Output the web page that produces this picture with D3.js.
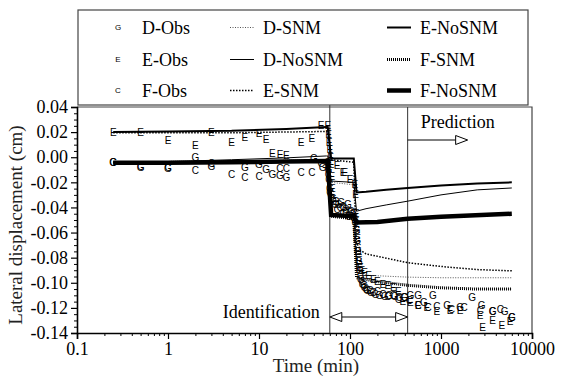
<!DOCTYPE html>
<html>
<head>
<meta charset="utf-8">
<script src="https://cdn.jsdelivr.net/npm/d3@7"></script>
<style>
  body { margin: 0; background: #fff; }
  text.serif { font-family: "Liberation Serif", "Times New Roman", serif; }
  text.mk { font-family: "Liberation Sans", Arial, sans-serif; font-size: 10px; }
</style>
</head>
<body>
<div id="chart"></div>
<script>
// observed data [time (min), displacement (cm)]
let obsD = [[0.25,-0.004],[0.5,-0.008],[1,-0.009],[2,-0.0005],[3,-0.0075],[7,-0.008],[10,-0.0055],[12,-0.010],[14,-0.0135],[17,-0.0145],[20,-0.016],[40,-0.001],[50,-0.008],
  [57,-0.004],[58,-0.010],[59,-0.018],[60,-0.025],[62,-0.030],[65,-0.033],[70,-0.035],[75,-0.038],[80,-0.036],[85,-0.040],[90,-0.042],[95,-0.038],[100,-0.044],[105,-0.046],[110,-0.045],
  [115,-0.050],[118,-0.058],[120,-0.066],[122,-0.075],[125,-0.083],[128,-0.090],[132,-0.097],[138,-0.101],[145,-0.104],[155,-0.106],[170,-0.108],[190,-0.109],[210,-0.110],[240,-0.111],
  [270,-0.110],[310,-0.111],[350,-0.112],[400,-0.112],[460,-0.110],[560,-0.110],[650,-0.116],[815,-0.110],[1170,-0.118],[1620,-0.120],[2200,-0.112],[2800,-0.118],[3700,-0.123],[5000,-0.123],[6000,-0.128]];
let obsE = [[0.25,0.020],[0.5,0.020],[1,0.0135],[2,0.009],[3,0.020],[5,0.012],[7,0.016],[10,0.019],[12,0.014],[14,0.003],[17,0.002],[20,0.0015],[29,0.012],[38,0.015],[48,0.025],[57,0.025],
  [58,0.018],[59,0.012],[60,0.006],[61,0.000],[62,-0.006],[63,-0.015],[64,-0.025],[66,-0.035],[72,-0.0065],[84,-0.012],[88,-0.012],[100,-0.018],[113,-0.022],[115,-0.030],[117,-0.045],
  [119,-0.055],[121,-0.065],[123,-0.075],[126,-0.082],[130,-0.088],[135,-0.090],[145,-0.092],[160,-0.094],[180,-0.097],[200,-0.099],[230,-0.101],[260,-0.102],[300,-0.104],[340,-0.107],
  [380,-0.115],[460,-0.116],[560,-0.118],[700,-0.120],[900,-0.123],[1256,-0.122],[1620,-0.122],[2690,-0.126],[2870,-0.136],[3700,-0.130],[4670,-0.134],[5730,-0.131]];
let obsF = [[0.25,-0.004],[0.5,-0.007],[1,-0.008],[2,-0.0105],[3,-0.005],[5,-0.0135],[7,-0.016],[10,-0.015],[17,-0.009],[20,-0.009],[29,-0.012],[38,-0.012],[48,-0.005],
  [57,-0.006],[58,-0.014],[60,-0.028],[63,-0.034],[68,-0.038],[72,-0.042],[78,-0.040],[84,-0.045],[90,-0.044],[96,-0.047],[102,-0.043],[108,-0.048],[114,-0.052],[118,-0.062],[121,-0.072],
  [124,-0.080],[127,-0.088],[131,-0.094],[136,-0.099],[142,-0.102],[150,-0.105],[165,-0.106],[180,-0.108],[200,-0.107],[230,-0.109],[260,-0.111],[300,-0.110],[340,-0.113],[390,-0.112],
  [450,-0.114],[560,-0.118],[720,-0.120],[900,-0.119],[1300,-0.121],[1800,-0.120],[2700,-0.122],[3700,-0.123],[4500,-0.121],[6000,-0.128]];

// model curves
let dSNM = [[0.25,-0.004],[55,-0.0025],[57,-0.0025],[62,-0.020],[110,-0.022],[118,-0.090],[150,-0.094],[430,-0.0955],[1000,-0.096],[6000,-0.096]];
let dNoSNM = [[0.25,-0.004],[1,-0.0035],[5,-0.002],[20,-0.0005],[55,0.001],[57,0.001],[62,-0.019],[110,-0.020],[118,-0.043],[150,-0.041],[250,-0.038],[430,-0.035],[1000,-0.030],[2500,-0.026],[6000,-0.0245]];
let eSNM = [[0.25,0.0195],[5,0.0195],[55,0.0205],[57,0.0205],[62,-0.002],[110,-0.004],[118,-0.068],[130,-0.074],[150,-0.077],[430,-0.084],[1000,-0.087],[2500,-0.0895],[6000,-0.0905]];
let eNoSNM = [[0.25,0.020],[1,0.0205],[5,0.021],[20,0.0225],[55,0.024],[57,0.024],[62,-0.001],[110,-0.001],[118,-0.028],[150,-0.0275],[250,-0.026],[430,-0.0245],[1000,-0.0225],[2500,-0.021],[6000,-0.020]];
let fSNM = [[0.25,-0.0045],[55,-0.003],[57,-0.003],[62,-0.047],[110,-0.049],[118,-0.096],[200,-0.099],[430,-0.102],[1000,-0.104],[2500,-0.105],[6000,-0.105]];
let fNoSNM = [[0.25,-0.0045],[1,-0.0045],[5,-0.004],[20,-0.0035],[55,-0.003],[57,-0.003],[62,-0.046],[110,-0.047],[118,-0.052],[200,-0.0515],[430,-0.049],[1000,-0.0475],[6000,-0.045]];

let xTicks = [0.1, 1, 10, 100, 1000, 10000];
let yTicks = [0.04, 0.02, 0, -0.02, -0.04, -0.06, -0.08, -0.10, -0.12, -0.14];
let tStart = 60, tPred = 430;

let svgWidth = 568, svgHeight = 381;
let margin = { top: 107, right: 36, bottom: 48, left: 77 };
let chartWidth = svgWidth - margin.left - margin.right;
let chartHeight = svgHeight - margin.top - margin.bottom;

let svg = d3.select("#chart").append("svg")
  .attr("width", svgWidth).attr("height", svgHeight);
let g = svg.append("g").attr("transform", `translate(${margin.left}, ${margin.top})`);

let x = d3.scaleLog().domain([0.1, 10000]).range([0, chartWidth]);
let y = d3.scaleLinear().domain([-0.14, 0.04]).range([chartHeight, 0]);

// frame (top and right)
g.append("path")
  .attr("d", `M0,0H${chartWidth}V${chartHeight}`)
  .attr("fill", "none").attr("stroke", "#444").attr("stroke-width", 1.2);

// minor ticks
let xMinor = [];
for (let d = 0.1; d < 10000; d *= 10) for (let k = 2; k <= 9; k++) xMinor.push(d * k);
let yMinor = d3.range(-0.14, 0.0401, 0.005).filter(v => Math.abs(Math.round(v * 200) % 4) !== 0);

g.append("g").attr("transform", `translate(0, ${chartHeight})`)
  .call(d3.axisBottom(x).tickValues(xMinor).tickSize(3).tickFormat(""))
  .call(a => a.select(".domain").remove());
g.append("g")
  .call(d3.axisLeft(y).tickValues(yMinor).tickSize(3).tickFormat(""))
  .call(a => a.select(".domain").remove());

let xAxis = g.append("g").attr("transform", `translate(0, ${chartHeight})`)
  .call(d3.axisBottom(x).tickValues(xTicks).tickSize(6).tickPadding(3).tickFormat(d => String(d)));
let yAxis = g.append("g")
  .call(d3.axisLeft(y).tickValues(yTicks).tickSize(6).tickPadding(3).tickFormat(d => d.toFixed(2)));
[xAxis, yAxis].forEach(a => {
  a.select(".domain").attr("stroke-width", 1.6);
  a.selectAll("line").attr("stroke-width", 1.2);
  a.selectAll("text").attr("class", "serif").style("font-size", "18px").attr("fill", "#000");
});
g.selectAll(".tick line").attr("stroke", "#000");

// region lines
g.append("line").attr("x1", x(tStart)).attr("x2", x(tStart)).attr("y1", -3).attr("y2", chartHeight)
  .attr("stroke", "#333").attr("stroke-width", 1);
g.append("line").attr("x1", x(tPred)).attr("x2", x(tPred)).attr("y1", 0).attr("y2", chartHeight)
  .attr("stroke", "#333").attr("stroke-width", 1);

// model lines
let line = d3.line().x(d => x(d[0])).y(d => y(d[1]));
let models = [
  { data: dSNM, w: 1, dash: "1,1.5", color: "#555" },
  { data: eSNM, w: 1.5, dash: "1.5,1.5", color: "#000" },
  { data: fSNM, w: 3, dash: "1,1", color: "#000" },
  { data: dNoSNM, w: 1, dash: null, color: "#000" },
  { data: eNoSNM, w: 2, dash: null, color: "#000" },
  { data: fNoSNM, w: 4.5, dash: null, color: "#000" }
];
models.forEach(m => {
  g.append("path").attr("d", line(m.data)).attr("fill", "none")
    .attr("stroke", m.color).attr("stroke-width", m.w)
    .attr("stroke-dasharray", m.dash);
});

// observations
[[obsD, "G"], [obsE, "E"], [obsF, "C"]].forEach(([data, ch]) => {
  g.append("g").selectAll("text").data(data).enter().append("text")
    .attr("class", "mk")
    .attr("x", d => x(d[0])).attr("y", d => y(d[1]))
    .attr("text-anchor", "middle").attr("dominant-baseline", "central")
    .text(ch);
});

// annotations
function openHead(px, py, dir) {
  return `M${px},${py}L${px - dir * 12},${py - 4.5}L${px - dir * 12},${py + 4.5}Z`;
}
let py = 33;
g.append("line").attr("x1", x(tPred)).attr("x2", x(tPred) + 48).attr("y1", py).attr("y2", py).attr("stroke", "#000");
g.append("path").attr("d", openHead(x(tPred) + 60, py, 1)).attr("fill", "#fff").attr("stroke", "#000");
g.append("text").attr("class", "serif").attr("x", x(tPred) + 13).attr("y", 21)
  .style("font-size", "18px").text("Prediction");

let iy = 210;
g.append("line").attr("x1", x(tStart) + 12).attr("x2", x(tPred) - 12).attr("y1", iy).attr("y2", iy).attr("stroke", "#000");
g.append("path").attr("d", openHead(x(tStart), iy, -1)).attr("fill", "#fff").attr("stroke", "#000");
g.append("path").attr("d", openHead(x(tPred), iy, 1)).attr("fill", "#fff").attr("stroke", "#000");
g.append("text").attr("class", "serif").attr("x", x(tStart) - 10).attr("y", iy + 0.5).attr("text-anchor", "end")
  .style("font-size", "18px").text("Identification");

// axis titles
svg.append("text").attr("class", "serif")
  .attr("transform", `translate(22, ${margin.top + chartHeight / 2 + 5}) rotate(-90)`)
  .attr("text-anchor", "middle").style("font-size", "19px").attr("fill", "#222")
  .text("Lateral displacement (cm)");
svg.append("text").attr("class", "serif").attr("x", 316).attr("y", 372).attr("text-anchor", "middle")
  .style("font-size", "19px").attr("fill", "#222").text("Time (min)");

// legend
let lg = svg.append("g");
lg.append("rect").attr("x", 78).attr("y", 10).attr("width", 450).attr("height", 95)
  .attr("fill", "#fff").attr("stroke", "#444").attr("stroke-width", 1.2);
let rows = [27.5, 59.5, 90.5];
let legendObs = [["G", "D-Obs"], ["E", "E-Obs"], ["C", "F-Obs"]];
legendObs.forEach((d, i) => {
  lg.append("text").attr("class", "mk").attr("x", 118).attr("y", rows[i])
    .attr("text-anchor", "middle").attr("dominant-baseline", "central").style("font-size", "8px").text(d[0]);
  lg.append("text").attr("class", "serif").attr("x", 142).attr("y", rows[i] + 6)
    .style("font-size", "18px").text(d[1]);
});
let legendLines = [
  [models[0], "D-SNM", 230], [models[3], "D-NoSNM", 230], [models[1], "E-SNM", 230],
  [models[4], "E-NoSNM", 387], [models[2], "F-SNM", 387], [models[5], "F-NoSNM", 387]
];
legendLines.forEach((d, i) => {
  let ry = rows[i % 3], lx = d[2];
  lg.append("line").attr("x1", lx).attr("x2", lx + 24).attr("y1", ry).attr("y2", ry)
    .attr("stroke", d[0].color).attr("stroke-width", d[0].w).attr("stroke-dasharray", d[0].dash);
  lg.append("text").attr("class", "serif").attr("x", lx + 33).attr("y", ry + 6)
    .style("font-size", "18px").text(d[1]);
});
</script>
</body>
</html>
